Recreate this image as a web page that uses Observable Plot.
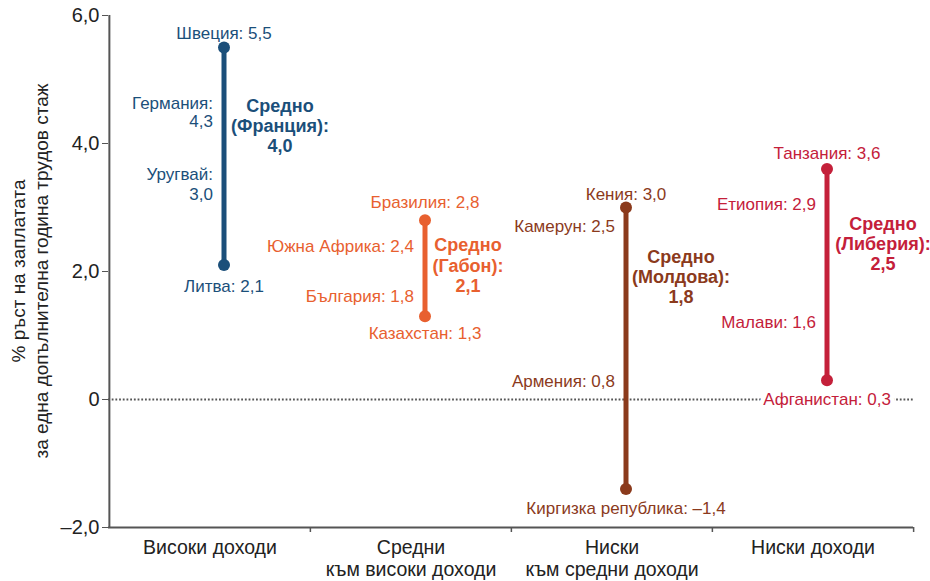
<!DOCTYPE html>
<html><head><meta charset="utf-8">
<script src="https://cdn.jsdelivr.net/npm/d3@7"></script>
<script src="https://cdn.jsdelivr.net/npm/@observablehq/plot@0.6"></script>
<style>
html,body{margin:0;padding:0;background:#fff;}
</style>
</head><body>
<div id="chart"></div>
<script>
// ---- data ----
const categories = ["Високи доходи", "Средни\nкъм високи доходи", "Ниски\nкъм средни доходи", "Ниски доходи"];
const colors = ["#1b4f7a", "#e8602f", "#8b3a1c", "#c4203a"];
const topCountry = ["Швеция", "Бразилия", "Кения", "Танзания"];
const topValue = [5.5, 2.8, 3.0, 3.6];
const bottomCountry = ["Литва", "Казахстан", "Киргизка република", "Афганистан"];
const bottomValue = [2.1, 1.3, -1.4, 0.3];
const upperCountry = ["Германия", "Южна Африка", "Камерун", "Етиопия"];
const upperValue = [4.3, 2.4, 2.5, 2.9];
const lowerCountry = ["Уругвай", "България", "Армения", "Малави"];
const lowerValue = [3.0, 1.8, 0.8, 1.6];
const avgCountry = ["Франция", "Габон", "Молдова", "Либерия"];
const avgValue = [4.0, 2.1, 1.8, 2.5];
const yTicks = [-2, 0, 2, 4, 6];
const yLabel = "% ръст на заплатата\nза една допълнителна година трудов стаж";

// ---- layout ----
const W = 930, H = 581;
const mL = 108, mR = 17, mT = 15, mB = 54;
const bw = (W - mL - mR) / categories.length;
const barDx = 14;

const fmt = v => v === 0 ? "0" : (v < 0 ? "–" : "") + Math.abs(v).toFixed(1).replace(".", ",");

const groups = categories.map((c, i) => ({cat: c, color: colors[i], top: topValue[i], bottom: bottomValue[i]}));

// label offsets per group (layout only)
const offs = {
  top:    [-14, -18, -13, -16],
  bottom: [21, 17, 19, 19],
  upper:  [-12, 0, -13, -10],
  lower:  [-24, 11, 32, 24],
  avg:    [-18, 0, -8, 4],
  avgDx:  [56, 43, 55, 56],
  upperMultiline: [true, false, false, false],
  lowerMultiline: [true, false, false, false]
};

const font = "'Liberation Sans', Arial, Helvetica, sans-serif";
const marks = [];

// axes lines
marks.push(Plot.ruleY([0], {stroke: "#555", strokeWidth: 2, strokeDasharray: "1.8,1.9"}));
marks.push(Plot.ruleY([-2], {stroke: "#555", strokeWidth: 2}));
marks.push(Plot.ruleX([categories[0]], {x: d => d, y1: -2, y2: 6, stroke: "#555", strokeWidth: 2, dx: -bw / 2}));
// boundary ticks on x axis
marks.push(Plot.ruleX(categories.slice(1), {x: d => d, y1: -2, y2: -2, stroke: "#555", strokeWidth: 1.5, dx: -bw / 2, insetBottom: -5}));
marks.push(Plot.ruleX([categories[categories.length - 1]], {x: d => d, y1: -2, y2: -2, stroke: "#555", strokeWidth: 1.5, dx: bw / 2, insetBottom: -5}));

// bars and endpoints
marks.push(Plot.ruleX(groups, {x: "cat", y1: "bottom", y2: "top", stroke: "color", strokeWidth: 5, dx: barDx}));
marks.push(Plot.dot(groups, {x: "cat", y: "top", fill: "color", r: 6, dx: barDx}));
marks.push(Plot.dot(groups, {x: "cat", y: "bottom", fill: "color", r: 6, dx: barDx}));

categories.forEach((c, i) => {
  const col = colors[i];
  const base = {fontSize: 17, fontFamily: font, fill: col};
  marks.push(Plot.text([{c, v: topValue[i]}], {...base, x: "c", y: "v", text: d => `${topCountry[i]}: ${fmt(d.v)}`, dx: barDx, dy: offs.top[i]}));
  marks.push(Plot.text([{c, v: bottomValue[i]}], {...base, x: "c", y: "v", text: d => `${bottomCountry[i]}: ${fmt(d.v)}`, dx: barDx, dy: offs.bottom[i], stroke: "white", strokeWidth: 9, strokeLinejoin: "round", paintOrder: "stroke"}));
  marks.push(Plot.text([{c, v: upperValue[i]}], {...base, x: "c", y: "v", text: d => `${upperCountry[i]}:${offs.upperMultiline[i] ? "\n" : " "}${fmt(d.v)}`, textAnchor: "end", dx: barDx - 11, dy: offs.upper[i], lineHeight: 1.08}));
  marks.push(Plot.text([{c, v: lowerValue[i]}], {...base, x: "c", y: "v", text: d => `${lowerCountry[i]}:${offs.lowerMultiline[i] ? "\n" : " "}${fmt(d.v)}`, textAnchor: "end", dx: barDx - 11, dy: offs.lower[i], lineHeight: 1.18}));
  marks.push(Plot.text([{c, v: avgValue[i]}], {...base, x: "c", y: "v", text: d => `Средно\n(${avgCountry[i]}):\n${fmt(d.v)}`, fontSize: 18, fontWeight: "bold", dx: barDx + offs.avgDx[i], dy: offs.avg[i], lineHeight: 1.12}));
});

marks.push(Plot.axisY({ticks: yTicks, tickFormat: fmt, tickSize: 6, tickPadding: 3, fontSize: 20, stroke: "#555", fill: "#222", label: null}));
marks.push(Plot.axisX({tickSize: 0, tickPadding: 12, fontSize: 19.5, fill: "#222", label: null, lineHeight: 1.08}));

const chart = Plot.plot({
  width: W, height: H,
  marginLeft: mL, marginRight: mR, marginTop: mT, marginBottom: mB,
  style: {fontFamily: font, background: "white", color: "#222"},
  x: {type: "band", domain: categories, padding: 0},
  y: {domain: [-2, 6]},
  marks
});

// y axis title (two lines, rotated)
const svg = d3.select(chart);
const cy = mT + (H - mT - mB) / 2;
const t = svg.append("text")
  .attr("transform", `translate(29,${cy}) rotate(-90)`)
  .attr("text-anchor", "middle")
  .attr("font-family", font)
  .attr("font-size", 19)
  .attr("fill", "#222");
yLabel.split("\n").forEach((line, k) => {
  t.append("tspan").attr("x", 0).attr("dy", k === 0 ? "-0.2em" : "1.2em").text(line);
});

document.getElementById("chart").appendChild(chart);
</script>
</body></html>
